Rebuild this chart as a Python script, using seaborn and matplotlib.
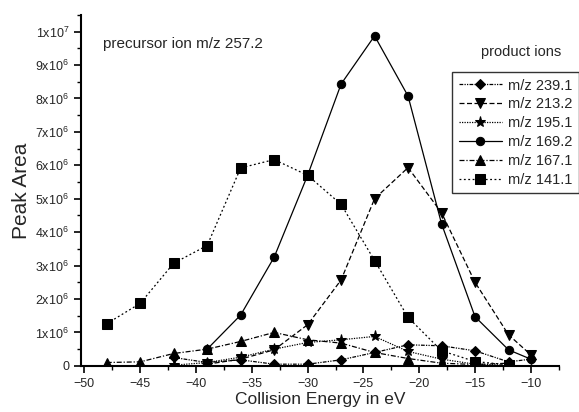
import pandas as pd
import matplotlib
matplotlib.use('Agg')
import matplotlib.pyplot as plt
import seaborn as sns
from matplotlib.ticker import MultipleLocator, FuncFormatter

# collision energies (eV)
energy = [-48, -45, -42, -39, -36, -33, -30, -27, -24, -21, -18, -15, -12, -10]

# peak areas in units of 1e6 (None = no point)
mz_239 = [None, None, 0.25, 0.10, 0.18, 0.05, 0.05, 0.18, 0.40, 0.63, 0.60, 0.45, 0.12, 0.20]
mz_213 = [None, None, None, 0.05, 0.20, 0.48, 1.23, 2.57, 5.00, 5.93, 4.58, 2.50, 0.93, 0.33]
mz_195 = [None, None, 0.02, 0.10, 0.26, 0.50, 0.70, 0.78, 0.88, 0.43, 0.20, 0.05, 0.02, None]
mz_169 = [None, None, None, 0.50, 1.52, 3.25, 5.70, 8.43, 9.87, 8.07, 4.25, 1.47, 0.48, 0.20]
mz_167 = [0.10, 0.12, 0.37, 0.50, 0.73, 1.00, 0.78, 0.68, 0.40, 0.22, 0.08, 0.04, 0.08, None]
mz_141 = [1.26, 1.87, 3.07, 3.60, 5.92, 6.17, 5.70, 4.83, 3.15, 1.45, 0.45, 0.13, 0.03, None]

ions = ['m/z 239.1', 'm/z 213.2', 'm/z 195.1', 'm/z 169.2', 'm/z 167.1', 'm/z 141.1']
series = [mz_239, mz_213, mz_195, mz_169, mz_167, mz_141]

rows = []
for ion, vals in zip(ions, series):
    for e, v in zip(energy, vals):
        if v is not None:
            rows.append({'energy': e, 'area': v * 1e6, 'ion': ion})
df = pd.DataFrame(rows)

sns.set_style('ticks')
plt.rcParams['font.family'] = ['Liberation Sans', 'DejaVu Sans']
plt.rcParams['mathtext.fontset'] = 'custom'
plt.rcParams['mathtext.rm'] = 'Liberation Sans'
plt.rcParams['mathtext.it'] = 'Liberation Sans'

fig = plt.figure(figsize=(5.79, 4.12), dpi=100)
ax = fig.add_axes([0.14, 0.112, 0.825, 0.852])

markers = {'m/z 239.1': 'D', 'm/z 213.2': 'v', 'm/z 195.1': '*',
           'm/z 169.2': 'o', 'm/z 167.1': '^', 'm/z 141.1': 's'}
dashes = {'m/z 239.1': (3, 1, 1, 1, 1, 1), 'm/z 213.2': (4, 2), 'm/z 195.1': (1, 1),
          'm/z 169.2': '', 'm/z 167.1': (4, 1.5, 1, 1.5), 'm/z 141.1': (1.5, 2)}
sizes = {'D': 5.5, 'v': 7, '*': 8, 'o': 6, '^': 7, 's': 6.5}

sns.lineplot(data=df, x='energy', y='area', style='ion', style_order=ions,
             markers=markers, dashes=dashes, color='black', linewidth=0.9,
             markersize=6, markeredgecolor='black', ax=ax)

# adjust marker sizes per series
for line in ax.get_lines():
    m = line.get_marker()
    if m in sizes:
        line.set_markersize(sizes[m])

ax.set_xlim(-50.3, -7.5)
ax.set_ylim(0, 10.5e6)
ax.xaxis.set_major_locator(MultipleLocator(5))
ax.xaxis.set_minor_locator(MultipleLocator(2.5))
ax.yaxis.set_major_locator(MultipleLocator(1e6))
ax.yaxis.set_minor_locator(MultipleLocator(0.5e6))


def fmt(v, pos):
    if abs(v) < 1:
        return '0'
    if abs(v - 1e7) < 1:
        return r'1x10$^{7}$'
    return r'%dx10$^{6}$' % round(v / 1e6)


ax.yaxis.set_major_formatter(FuncFormatter(fmt))
ax.tick_params(axis='both', which='major', labelsize=9, length=5, width=1.2, direction='out', color='black')
ax.tick_params(axis='both', which='minor', length=3, width=1, direction='out', color='black')
for s in ['top', 'right']:
    ax.spines[s].set_visible(False)
for s in ['left', 'bottom']:
    ax.spines[s].set_linewidth(1.5)
    ax.spines[s].set_color('black')

ax.set_xlabel('Collision Energy in eV', fontsize=12.5, labelpad=2)
ax.set_ylabel('Peak Area', fontsize=15, labelpad=3)

ax.text(0.045, 0.905, 'precursor ion m/z 257.2', transform=ax.transAxes, fontsize=11)

handles, labels = ax.get_legend_handles_labels()
leg = ax.legend(handles, labels, loc='upper left', bbox_to_anchor=(452 / 579, 1 - 72 / 412),
                bbox_transform=fig.transFigure, frameon=True, fancybox=False, edgecolor='black',
                fontsize=10.5, handlelength=3.0, handletextpad=0.4, borderpad=0.45,
                labelspacing=0.33, borderaxespad=0)
leg.get_frame().set_linewidth(1.0)
fig.text(0.9, 1 - 52 / 412, 'product ions', ha='center', va='center', fontsize=10.5)

fig.savefig('out.png', dpi=100)
